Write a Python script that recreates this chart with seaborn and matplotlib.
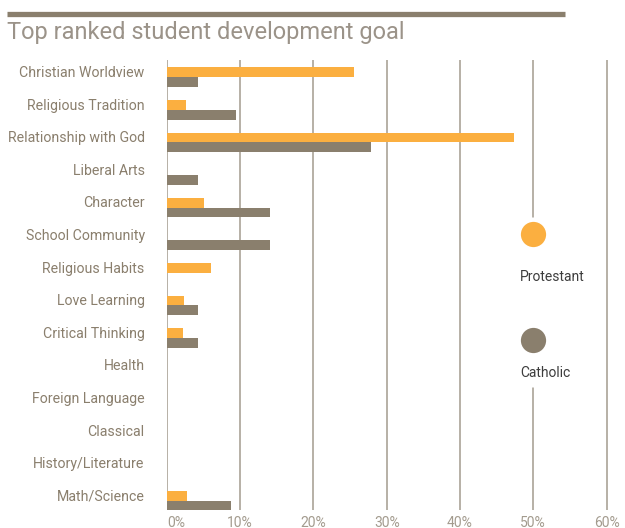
import numpy as np
import pandas as pd
import matplotlib
matplotlib.use("Agg")
import matplotlib.pyplot as plt
import seaborn as sns

# ==========================
# DATA
# ==========================
goals = ["Christian Worldview", "Religious Tradition", "Relationship with God",
         "Liberal Arts", "Character", "School Community", "Religious Habits",
         "Love Learning", "Critical Thinking", "Health", "Foreign Language",
         "Classical", "History/Literature", "Math/Science"]
protestant = [25.5, 2.6, 47.4, 0, 5.0, 0, 6.0, 2.3, 2.2, 0, 0, 0, 0, 2.7]
catholic = [4.3, 9.4, 27.8, 4.3, 14.1, 14.1, 0, 4.3, 4.3, 0, 0, 0, 0, 8.8]
groups = ["Protestant", "Catholic"]
xticks = [0, 10, 20, 30, 40, 50, 60]

ORANGE = "#fbaf40"
TAUPE = "#8a7f6d"
GRID = "#a39b8e"

df = pd.DataFrame({
    "goal": goals * 2,
    "share": protestant + catholic,
    "group": [groups[0]] * len(goals) + [groups[1]] * len(goals),
})

sns.set_style("white")
plt.rcParams["font.family"] = ["Roboto", "DejaVu Sans"]

fig = plt.figure(figsize=(6.25, 5.28), dpi=100)
ax = fig.add_axes([0.267, 0.034, 0.707, 0.852])

# gridlines (50% line is broken by the legend)
for x in xticks:
    if x == 50:
        ax.axvline(x, ymin=0, ymax=0.271, color=GRID, lw=1.1, zorder=0)
        ax.axvline(x, ymin=0.651, ymax=1, color=GRID, lw=1.1, zorder=0)
    else:
        ax.axvline(x, color=GRID, lw=1.1, zorder=0)

sns.barplot(data=df, y="goal", x="share", hue="group", orient="h",
            palette=[ORANGE, TAUPE], saturation=1, errorbar=None,
            width=0.6, legend=False, linewidth=0, ax=ax, zorder=2)

ax.set_xlim(0, 60.3)
ax.set_ylim(13.28, -0.52)
ax.set_xticks(xticks)
ax.set_xticklabels([f"{x}%" for x in xticks], color="#a39b8e", fontsize=10)
ax.get_xticklabels()[0].set_ha("left")
ax.set_yticks(np.arange(len(goals)) - 0.17)
ax.set_yticklabels(goals, color=TAUPE, fontsize=10.2)
ax.tick_params(axis="y", length=0, pad=16)
ax.tick_params(axis="x", length=0, pad=4)
ax.set_xlabel("")
ax.set_ylabel("")
for s in ax.spines.values():
    s.set_visible(False)

# legend: circles on the 50% line
ax.scatter([50], [0.613], s=330, color=ORANGE, linewidths=0,
           transform=ax.get_xaxis_transform(), zorder=3, clip_on=False)
ax.scatter([50], [0.378], s=330, color=TAUPE, linewidths=0,
           transform=ax.get_xaxis_transform(), zorder=3, clip_on=False)
fig.text(520 / 625, 1 - 277 / 528, groups[0], fontsize=10, color="#3d3d3d", va="center")
fig.text(520 / 625, 1 - 373 / 528, groups[1], fontsize=10, color="#3d3d3d", va="center")

# header rule and title
fig.add_artist(plt.Line2D([7 / 625, 565 / 625], [1 - 13.5 / 528] * 2,
                          color=TAUPE, lw=3.8, solid_capstyle="butt"))
fig.text(7 / 625, 1 - 33 / 528, "Top ranked student development goal",
         fontsize=17, color="#9b9389", va="center")

fig.savefig("out.png", dpi=100)
